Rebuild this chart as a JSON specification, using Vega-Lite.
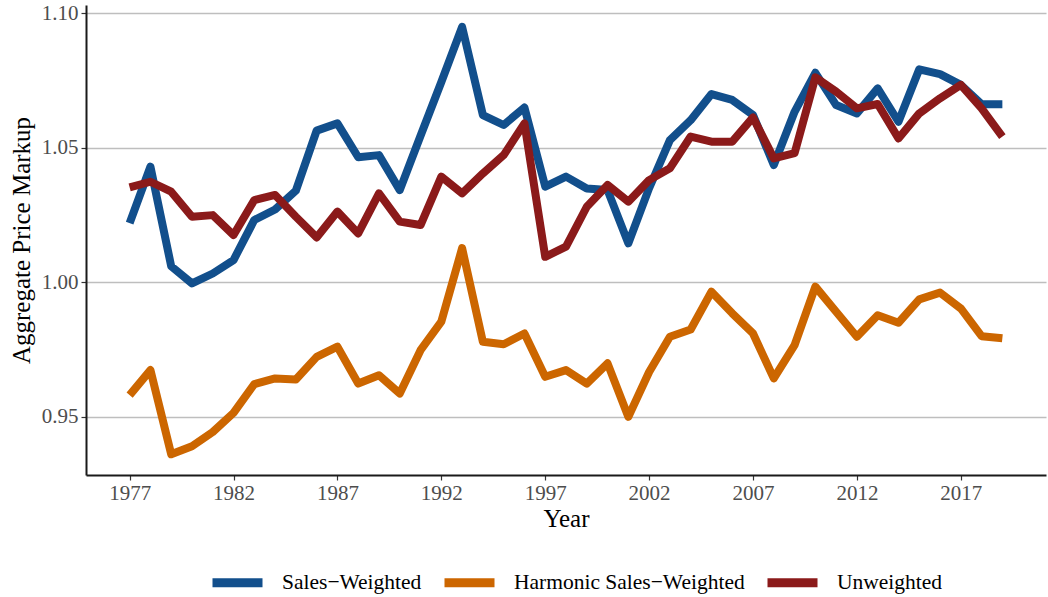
{
  "$schema": "https://vega.github.io/schema/vega-lite/v6.json",
  "width": 960,
  "height": 470,
  "autosize": {"type": "none"},
  "padding": {"left": 86, "top": 5, "right": 2, "bottom": 122},
  "background": "white",
  "config": {
    "view": {"stroke": null},
    "font": "Liberation Serif"
  },
  "data": {
    "values": [
      {"year":1977,"series":"Sales−Weighted","value":1.022},
      {"year":1978,"series":"Sales−Weighted","value":1.043},
      {"year":1979,"series":"Sales−Weighted","value":1.006},
      {"year":1980,"series":"Sales−Weighted","value":0.9996},
      {"year":1981,"series":"Sales−Weighted","value":1.0033},
      {"year":1982,"series":"Sales−Weighted","value":1.0083},
      {"year":1983,"series":"Sales−Weighted","value":1.0232},
      {"year":1984,"series":"Sales−Weighted","value":1.0271},
      {"year":1985,"series":"Sales−Weighted","value":1.0341},
      {"year":1986,"series":"Sales−Weighted","value":1.0564},
      {"year":1987,"series":"Sales−Weighted","value":1.0591},
      {"year":1988,"series":"Sales−Weighted","value":1.0465},
      {"year":1989,"series":"Sales−Weighted","value":1.0473},
      {"year":1990,"series":"Sales−Weighted","value":1.0343},
      {"year":1991,"series":"Sales−Weighted","value":1.0545},
      {"year":1992,"series":"Sales−Weighted","value":1.0745},
      {"year":1993,"series":"Sales−Weighted","value":1.095},
      {"year":1994,"series":"Sales−Weighted","value":1.0622},
      {"year":1995,"series":"Sales−Weighted","value":1.0585},
      {"year":1996,"series":"Sales−Weighted","value":1.065},
      {"year":1997,"series":"Sales−Weighted","value":1.0356},
      {"year":1998,"series":"Sales−Weighted","value":1.0393},
      {"year":1999,"series":"Sales−Weighted","value":1.0349},
      {"year":2000,"series":"Sales−Weighted","value":1.0343},
      {"year":2001,"series":"Sales−Weighted","value":1.0145},
      {"year":2002,"series":"Sales−Weighted","value":1.035},
      {"year":2003,"series":"Sales−Weighted","value":1.0529},
      {"year":2004,"series":"Sales−Weighted","value":1.0603},
      {"year":2005,"series":"Sales−Weighted","value":1.070},
      {"year":2006,"series":"Sales−Weighted","value":1.0678},
      {"year":2007,"series":"Sales−Weighted","value":1.0622},
      {"year":2008,"series":"Sales−Weighted","value":1.0436},
      {"year":2009,"series":"Sales−Weighted","value":1.0634},
      {"year":2010,"series":"Sales−Weighted","value":1.0779},
      {"year":2011,"series":"Sales−Weighted","value":1.0659},
      {"year":2012,"series":"Sales−Weighted","value":1.0628},
      {"year":2013,"series":"Sales−Weighted","value":1.0721},
      {"year":2014,"series":"Sales−Weighted","value":1.0597},
      {"year":2015,"series":"Sales−Weighted","value":1.0792},
      {"year":2016,"series":"Sales−Weighted","value":1.0774},
      {"year":2017,"series":"Sales−Weighted","value":1.0734},
      {"year":2018,"series":"Sales−Weighted","value":1.0662},
      {"year":2019,"series":"Sales−Weighted","value":1.0662},

      {"year":1977,"series":"Harmonic Sales−Weighted","value":0.9581},
      {"year":1978,"series":"Harmonic Sales−Weighted","value":0.9674},
      {"year":1979,"series":"Harmonic Sales−Weighted","value":0.9361},
      {"year":1980,"series":"Harmonic Sales−Weighted","value":0.9391},
      {"year":1981,"series":"Harmonic Sales−Weighted","value":0.9444},
      {"year":1982,"series":"Harmonic Sales−Weighted","value":0.9515},
      {"year":1983,"series":"Harmonic Sales−Weighted","value":0.9622},
      {"year":1984,"series":"Harmonic Sales−Weighted","value":0.9643},
      {"year":1985,"series":"Harmonic Sales−Weighted","value":0.9639},
      {"year":1986,"series":"Harmonic Sales−Weighted","value":0.9723},
      {"year":1987,"series":"Harmonic Sales−Weighted","value":0.9761},
      {"year":1988,"series":"Harmonic Sales−Weighted","value":0.9624},
      {"year":1989,"series":"Harmonic Sales−Weighted","value":0.9655},
      {"year":1990,"series":"Harmonic Sales−Weighted","value":0.9587},
      {"year":1991,"series":"Harmonic Sales−Weighted","value":0.9748},
      {"year":1992,"series":"Harmonic Sales−Weighted","value":0.9854},
      {"year":1993,"series":"Harmonic Sales−Weighted","value":1.0127},
      {"year":1994,"series":"Harmonic Sales−Weighted","value":0.9779},
      {"year":1995,"series":"Harmonic Sales−Weighted","value":0.977},
      {"year":1996,"series":"Harmonic Sales−Weighted","value":0.981},
      {"year":1997,"series":"Harmonic Sales−Weighted","value":0.9649},
      {"year":1998,"series":"Harmonic Sales−Weighted","value":0.9674},
      {"year":1999,"series":"Harmonic Sales−Weighted","value":0.9624},
      {"year":2000,"series":"Harmonic Sales−Weighted","value":0.9699},
      {"year":2001,"series":"Harmonic Sales−Weighted","value":0.950},
      {"year":2002,"series":"Harmonic Sales−Weighted","value":0.9667},
      {"year":2003,"series":"Harmonic Sales−Weighted","value":0.9798},
      {"year":2004,"series":"Harmonic Sales−Weighted","value":0.9825},
      {"year":2005,"series":"Harmonic Sales−Weighted","value":0.9965},
      {"year":2006,"series":"Harmonic Sales−Weighted","value":0.9885},
      {"year":2007,"series":"Harmonic Sales−Weighted","value":0.981},
      {"year":2008,"series":"Harmonic Sales−Weighted","value":0.9643},
      {"year":2009,"series":"Harmonic Sales−Weighted","value":0.9767},
      {"year":2010,"series":"Harmonic Sales−Weighted","value":0.9984},
      {"year":2011,"series":"Harmonic Sales−Weighted","value":0.9891},
      {"year":2012,"series":"Harmonic Sales−Weighted","value":0.9798},
      {"year":2013,"series":"Harmonic Sales−Weighted","value":0.9878},
      {"year":2014,"series":"Harmonic Sales−Weighted","value":0.985},
      {"year":2015,"series":"Harmonic Sales−Weighted","value":0.9937},
      {"year":2016,"series":"Harmonic Sales−Weighted","value":0.9962},
      {"year":2017,"series":"Harmonic Sales−Weighted","value":0.9903},
      {"year":2018,"series":"Harmonic Sales−Weighted","value":0.980},
      {"year":2019,"series":"Harmonic Sales−Weighted","value":0.9792},

      {"year":1977,"series":"Unweighted","value":1.0353},
      {"year":1978,"series":"Unweighted","value":1.0374},
      {"year":1979,"series":"Unweighted","value":1.0337},
      {"year":1980,"series":"Unweighted","value":1.0244},
      {"year":1981,"series":"Unweighted","value":1.025},
      {"year":1982,"series":"Unweighted","value":1.0176},
      {"year":1983,"series":"Unweighted","value":1.0306},
      {"year":1984,"series":"Unweighted","value":1.0325},
      {"year":1985,"series":"Unweighted","value":1.0244},
      {"year":1986,"series":"Unweighted","value":1.0167},
      {"year":1987,"series":"Unweighted","value":1.0263},
      {"year":1988,"series":"Unweighted","value":1.0182},
      {"year":1989,"series":"Unweighted","value":1.0331},
      {"year":1990,"series":"Unweighted","value":1.0226},
      {"year":1991,"series":"Unweighted","value":1.0213},
      {"year":1992,"series":"Unweighted","value":1.0393},
      {"year":1993,"series":"Unweighted","value":1.0331},
      {"year":1994,"series":"Unweighted","value":1.0405},
      {"year":1995,"series":"Unweighted","value":1.0473},
      {"year":1996,"series":"Unweighted","value":1.0591},
      {"year":1997,"series":"Unweighted","value":1.0095},
      {"year":1998,"series":"Unweighted","value":1.0133},
      {"year":1999,"series":"Unweighted","value":1.0281},
      {"year":2000,"series":"Unweighted","value":1.0362},
      {"year":2001,"series":"Unweighted","value":1.030},
      {"year":2002,"series":"Unweighted","value":1.038},
      {"year":2003,"series":"Unweighted","value":1.0424},
      {"year":2004,"series":"Unweighted","value":1.0542},
      {"year":2005,"series":"Unweighted","value":1.0523},
      {"year":2006,"series":"Unweighted","value":1.0523},
      {"year":2007,"series":"Unweighted","value":1.0613},
      {"year":2008,"series":"Unweighted","value":1.0461},
      {"year":2009,"series":"Unweighted","value":1.048},
      {"year":2010,"series":"Unweighted","value":1.0762},
      {"year":2011,"series":"Unweighted","value":1.0709},
      {"year":2012,"series":"Unweighted","value":1.0647},
      {"year":2013,"series":"Unweighted","value":1.0663},
      {"year":2014,"series":"Unweighted","value":1.0535},
      {"year":2015,"series":"Unweighted","value":1.0628},
      {"year":2016,"series":"Unweighted","value":1.0684},
      {"year":2017,"series":"Unweighted","value":1.0734},
      {"year":2018,"series":"Unweighted","value":1.0647},
      {"year":2019,"series":"Unweighted","value":1.0542}
    ]
  },
  "mark": {"type": "line", "strokeWidth": 8, "strokeCap": "butt", "strokeJoin": "round", "clip": true},
  "encoding": {
    "x": {
      "field": "year", "type": "quantitative",
      "scale": {"domain": [1974.9, 2021.1], "nice": false, "zero": false},
      "axis": {
        "title": "Year", "values": [1977,1982,1987,1992,1997,2002,2007,2012,2017], "format": "d",
        "grid": false, "domain": true, "domainColor": "#1a1a1a", "domainWidth": 2,
        "ticks": true, "tickColor": "#333333", "tickSize": 5, "tickWidth": 1.2,
        "labelFont": "Liberation Serif", "labelFontSize": 21, "labelColor": "#4d4d4d", "labelPadding": 2,
        "titleFont": "Liberation Serif", "titleFontSize": 25, "titleFontWeight": "normal", "titleColor": "#000000", "titlePadding": 3
      }
    },
    "y": {
      "field": "value", "type": "quantitative",
      "scale": {"domain": [0.9284, 1.1031], "nice": false, "zero": false},
      "axis": {
        "title": "Aggregate Price Markup", "values": [0.95, 1.0, 1.05, 1.10], "format": ".2f",
        "grid": true, "gridColor": "#bebebe", "gridWidth": 1.3,
        "domain": true, "domainColor": "#1a1a1a", "domainWidth": 2,
        "ticks": true, "tickColor": "#333333", "tickSize": 5, "tickWidth": 1.2,
        "labelFont": "Liberation Serif", "labelFontSize": 21, "labelColor": "#4d4d4d", "labelPadding": 3,
        "titleFont": "Liberation Serif", "titleFontSize": 25, "titleFontWeight": "normal", "titleColor": "#000000", "titlePadding": 7
      }
    },
    "color": {
      "field": "series", "type": "nominal",
      "scale": {
        "domain": ["Sales−Weighted", "Harmonic Sales−Weighted", "Unweighted"],
        "range": ["#124f8c", "#cc6600", "#8b1a1a"]
      },
      "legend": {
        "title": null, "orient": "none", "direction": "horizontal",
        "legendX": 122, "legendY": 548,
        "symbolType": "stroke", "symbolSize": 2500, "symbolStrokeWidth": 9,
        "labelFont": "Liberation Serif", "labelFontSize": 21.5, "labelColor": "#000000",
        "labelLimit": 400, "labelOffset": 15, "columnPadding": 4
      }
    }
  }
}
